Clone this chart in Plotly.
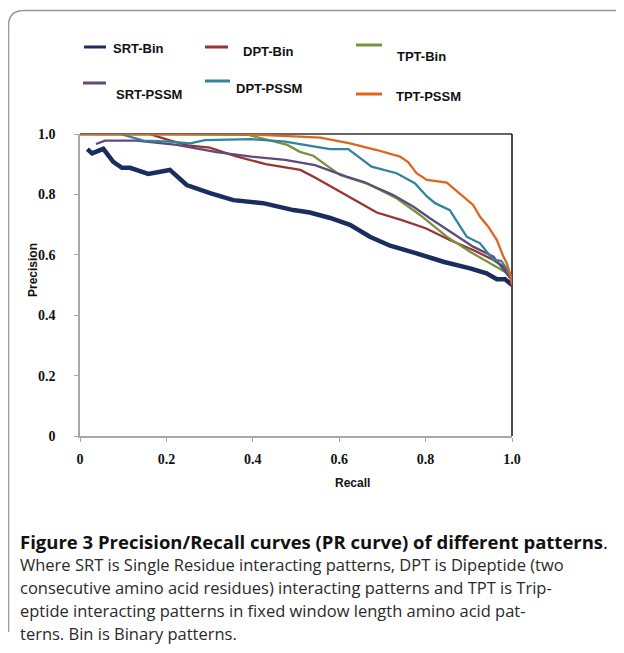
import plotly.graph_objects as go

# ---------------- data ----------------
series_names = ["SRT-Bin", "DPT-Bin", "TPT-Bin", "SRT-PSSM", "DPT-PSSM", "TPT-PSSM"]

srt_bin_recall = [0.017, 0.028, 0.054, 0.077, 0.097, 0.116, 0.158, 0.208, 0.247, 0.301, 0.355,
                  0.424, 0.494, 0.532, 0.579, 0.625, 0.671, 0.718, 0.779, 0.841, 0.903, 0.941,
                  0.965, 0.984, 1.0]
srt_bin_precision = [0.950, 0.936, 0.951, 0.908, 0.888, 0.888, 0.868, 0.881, 0.831, 0.804, 0.781,
                     0.771, 0.748, 0.740, 0.722, 0.699, 0.660, 0.630, 0.605, 0.577, 0.555, 0.539,
                     0.519, 0.519, 0.500]

dpt_bin_recall = [0.0, 0.16, 0.21, 0.25, 0.30, 0.36, 0.43, 0.51, 0.545, 0.60, 0.635, 0.687,
                  0.745, 0.80, 0.856, 0.91, 0.957, 0.98, 1.0]
dpt_bin_precision = [1.0, 1.0, 0.978, 0.962, 0.955, 0.927, 0.900, 0.881, 0.855, 0.812, 0.782,
                     0.740, 0.715, 0.688, 0.649, 0.616, 0.583, 0.561, 0.52]

tpt_bin_recall = [0.0, 0.39, 0.48, 0.509, 0.54, 0.602, 0.664, 0.733, 0.787, 0.849, 0.903, 0.957, 1.0]
tpt_bin_precision = [1.0, 0.997, 0.964, 0.941, 0.928, 0.864, 0.836, 0.787, 0.732, 0.660, 0.610,
                     0.566, 0.53]

srt_pssm_recall = [0.037, 0.058, 0.131, 0.224, 0.316, 0.397, 0.475, 0.544, 0.617, 0.656, 0.725,
                   0.772, 0.810, 0.864, 0.910, 0.957, 0.980, 1.0]
srt_pssm_precision = [0.967, 0.978, 0.978, 0.964, 0.940, 0.925, 0.914, 0.897, 0.859, 0.842, 0.798,
                      0.759, 0.721, 0.671, 0.627, 0.594, 0.550, 0.515]

dpt_pssm_recall = [0.0, 0.093, 0.147, 0.208, 0.255, 0.289, 0.397, 0.475, 0.544, 0.579, 0.621,
                   0.675, 0.733, 0.775, 0.803, 0.822, 0.856, 0.895, 0.926, 0.957, 0.975, 1.0]
dpt_pssm_precision = [1.0, 1.0, 0.978, 0.975, 0.969, 0.980, 0.983, 0.975, 0.958, 0.950, 0.950,
                      0.892, 0.870, 0.837, 0.793, 0.771, 0.748, 0.660, 0.638, 0.583, 0.580, 0.528]

tpt_pssm_recall = [0.0, 0.366, 0.509, 0.556, 0.625, 0.687, 0.741, 0.760, 0.779, 0.803, 0.849,
                   0.887, 0.910, 0.926, 0.945, 0.965, 0.980, 0.988, 0.995, 1.0]
tpt_pssm_precision = [1.0, 1.0, 0.991, 0.988, 0.969, 0.947, 0.925, 0.906, 0.870, 0.848, 0.839,
                      0.793, 0.765, 0.726, 0.693, 0.649, 0.594, 0.572, 0.539, 0.50]

tick_values = [0, 0.2, 0.4, 0.6, 0.8, 1.0]
tick_labels = ["0", "0.2", "0.4", "0.6", "0.8", "1.0"]

caption_title = "Figure 3 Precision/Recall curves (PR curve) of different patterns"
caption_lines = [
    "Where SRT is Single Residue interacting patterns, DPT is Dipeptide (two",
    "consecutive amino acid residues) interacting patterns and TPT is Trip-",
    "eptide interacting patterns in fixed window length amino acid pat-",
    "terns. Bin is Binary patterns.",
]

# ---------------- styling ----------------
OFF = 8                      # page body margin
W, H = 624 - OFF, 653 - OFF
L, T = 80 - OFF, 134 - OFF
R = W - (512 - OFF)
B = H - (436 - OFF)
PW, PH = W - L - R, H - T - B

def px(xp):
    return (xp - OFF - L) / PW

def py(yp):
    return (T + PH - (yp - OFF)) / PH

colors = ["#1b2c5e", "#983532", "#77933c", "#5f4a7b", "#31849b", "#dd661e"]
widths = [4.5, 2.3, 2.3, 2.3, 2.3, 2.3]
data = [
    (srt_bin_recall, srt_bin_precision),
    (dpt_bin_recall, dpt_bin_precision),
    (tpt_bin_recall, tpt_bin_precision),
    (srt_pssm_recall, srt_pssm_precision),
    (dpt_pssm_recall, dpt_pssm_precision),
    (tpt_pssm_recall, tpt_pssm_precision),
]

fig = go.Figure()
for name, (xs, ys), c, w in zip(series_names, data, colors, widths):
    fig.add_trace(go.Scatter(x=xs, y=ys, mode="lines", name=name,
                             line=dict(color=c, width=w), showlegend=False))

tickfont = dict(family="Liberation Serif", size=14, color="#111", weight="bold")
fig.update_xaxes(range=[0, 1.0], tickvals=tick_values, ticktext=tick_labels,
                 showgrid=False, zeroline=False, showline=True, linecolor="#a8a8a8",
                 linewidth=1.5, ticks="outside", ticklen=4, tickcolor="#a8a8a8",
                 tickfont=tickfont, ticklabelstandoff=5)
fig.update_yaxes(range=[0, 1.0], tickvals=tick_values, ticktext=tick_labels,
                 showgrid=False, zeroline=False, showline=True, linecolor="#a8a8a8",
                 linewidth=1.5, ticks="outside", ticklen=4, tickcolor="#a8a8a8",
                 tickfont=tickfont, ticklabelstandoff=16)

shapes = []
shapes.append(dict(type="line", xref="paper", yref="paper", x0=0, x1=1, y0=1, y1=1,
                   line=dict(color="#333", width=1.5), layer="below"))
shapes.append(dict(type="line", xref="paper", yref="paper", x0=1, x1=1, y0=0, y1=1,
                   line=dict(color="#111", width=1.5), layer="below"))
path = "M {x0},{y0} L {x0},{y1} Q {x0},{y2} {x3},{y2} L {x4},{y2}".format(
    x0=px(8.5), y0=py(632), y1=py(26), y2=py(10.5), x3=px(24), x4=px(640))
shapes.append(dict(type="path", xref="paper", yref="paper", path=path,
                   line=dict(color="#9a9a9a", width=1.5)))

legend_pos = [
    ((84, 106, 47), (111, 48)),
    ((205, 228, 47), (241, 52)),
    ((356, 382, 45), (395, 56)),
    ((83, 106, 83), (114, 95)),
    ((205, 230, 81), (234, 88)),
    ((356, 382, 94), (394, 97)),
]
annotations = []
for name, c, ((sx0, sx1, sy), (tx, ty)) in zip(series_names, colors, legend_pos):
    shapes.append(dict(type="line", xref="paper", yref="paper", x0=px(sx0), x1=px(sx1),
                       y0=py(sy), y1=py(sy), line=dict(color=c, width=3)))
    annotations.append(dict(x=px(tx), y=py(ty), xref="paper", yref="paper", text=name,
                            showarrow=False, xanchor="left", yanchor="middle",
                            font=dict(family="Liberation Sans", size=13, color="#111",
                                      weight="bold")))

annotations.append(dict(x=px(352), y=py(483), xref="paper", yref="paper", text="Recall",
                        showarrow=False, xanchor="center", yanchor="middle",
                        font=dict(family="Liberation Sans", size=12, color="#111", weight="bold")))
annotations.append(dict(x=px(33), y=py(270), xref="paper", yref="paper", text="Precision",
                        showarrow=False, xanchor="center", yanchor="middle", textangle=-90,
                        font=dict(family="Liberation Sans", size=12, color="#111", weight="bold")))

annotations.append(dict(x=px(18), y=py(541), xref="paper", yref="paper",
                        text="<b>" + caption_title + "</b>.",
                        showarrow=False, xanchor="left", yanchor="middle",
                        font=dict(family="Open Sans", size=18.5, color="#111")))
for i, line in enumerate(caption_lines):
    annotations.append(dict(x=px(18), y=py(564 + 23 * i), xref="paper", yref="paper",
                            text=line, showarrow=False, xanchor="left", yanchor="middle",
                            font=dict(family="Open Sans", size=16.5, color="#2a2a2a")))

fig.update_layout(width=W, height=H, margin=dict(l=L, r=R, t=T, b=B, pad=0),
                  paper_bgcolor="white", plot_bgcolor="white",
                  shapes=shapes, annotations=annotations, showlegend=False)

fig.write_html("out.html")
